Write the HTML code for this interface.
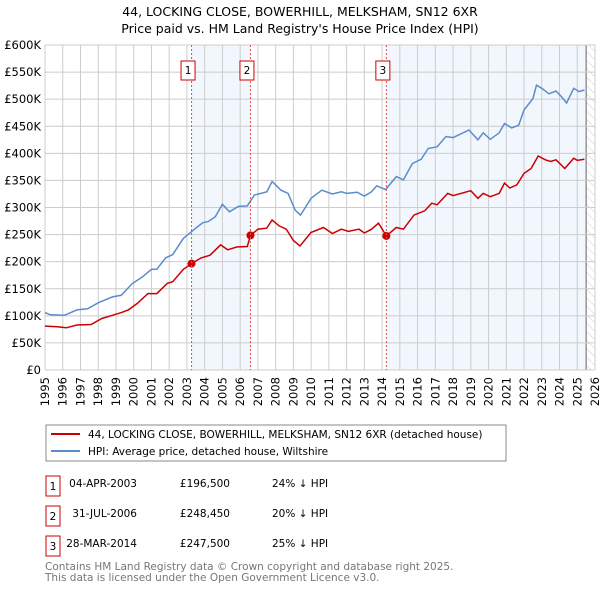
<!DOCTYPE html>
<html><head><meta charset="utf-8"><style>
body{margin:0;background:#fff;font-family:"Liberation Sans","DejaVu Sans",sans-serif;}
svg text{font-family:"DejaVu Sans","Liberation Sans",sans-serif;}
</style></head><body>
<svg id="chart" width="600" height="590" xmlns="http://www.w3.org/2000/svg">
<text x="300" y="16" text-anchor="middle" font-size="12.5">44, LOCKING CLOSE, BOWERHILL, MELKSHAM, SN12 6XR</text>
<text x="300" y="33" text-anchor="middle" font-size="12.5">Price paid vs. HM Land Registry's House Price Index (HPI)</text>
<g id="bg"></g><g id="grid"></g><g id="series"></g><g id="marks"></g><g id="axes"></g>
<g>
<rect x="46" y="425" width="460" height="36" fill="#fff" stroke="#888"/>
<line x1="51" y1="434" x2="80" y2="434" stroke="#cc0000" stroke-width="2"/>
<text x="88" y="438" font-size="10.5">44, LOCKING CLOSE, BOWERHILL, MELKSHAM, SN12 6XR (detached house)</text>
<line x1="51" y1="451" x2="80" y2="451" stroke="#5b8ccc" stroke-width="2"/>
<text x="88" y="455" font-size="10.5">HPI: Average price, detached house, Wiltshire</text>
</g>
<g font-size="10.5">
<rect x="46" y="476" width="14" height="20" fill="#fff" stroke="#cc0000"/><text x="53" y="490" text-anchor="middle">1</text>
<text x="137" y="487" text-anchor="end">04-APR-2003</text><text x="230" y="487" text-anchor="end">£196,500</text><text x="272" y="487">24% ↓ HPI</text>
<rect x="46" y="506" width="14" height="20" fill="#fff" stroke="#cc0000"/><text x="53" y="520" text-anchor="middle">2</text>
<text x="137" y="517" text-anchor="end">31-JUL-2006</text><text x="230" y="517" text-anchor="end">£248,450</text><text x="272" y="517">20% ↓ HPI</text>
<rect x="46" y="536" width="14" height="20" fill="#fff" stroke="#cc0000"/><text x="53" y="550" text-anchor="middle">3</text>
<text x="137" y="547" text-anchor="end">28-MAR-2014</text><text x="230" y="547" text-anchor="end">£247,500</text><text x="272" y="547">25% ↓ HPI</text>
</g>
<text x="45" y="570" font-size="10.5" fill="#777">Contains HM Land Registry data © Crown copyright and database right 2025.</text>
<text x="45" y="581" font-size="10.5" fill="#777">This data is licensed under the Open Government Licence v3.0.</text>
</svg>
<script>
const hpiYears=[1995,1995.3,1996.1,1996.8,1997.4,1998,1998.8,1999.3,1999.9,2000.5,2001,2001.3,2001.8,2002.2,2002.8,2003.5,2003.9,2004.2,2004.6,2005,2005.4,2005.9,2006.4,2006.8,2007.5,2007.8,2008.3,2008.7,2009.1,2009.4,2010,2010.6,2011.2,2011.7,2012,2012.6,2013,2013.4,2013.7,2014.2,2014.8,2015.2,2015.7,2016.2,2016.6,2017.1,2017.6,2018,2018.9,2019.4,2019.7,2020.1,2020.6,2020.9,2021.3,2021.7,2022,2022.5,2022.7,2023,2023.4,2023.8,2024.1,2024.4,2024.8,2025.1,2025.4];
const hpiValues=[106,102,101,111,113,124,135,138,159,172,186,186,207,213,243,262,272,274,283,306,292,302,303,323,329,348,332,326,295,286,317,332,325,329,326,328,321,329,340,333,357,351,381,389,409,412,431,429,443,425,438,426,438,455,447,452,480,501,526,520,510,515,505,493,520,514,517];
const propYears=[1995,1995.7,1996.2,1996.8,1997.6,1998.2,1998.8,1999.3,1999.7,2000.2,2000.8,2001.3,2001.9,2002.2,2002.8,2003.26,2003.8,2004.3,2004.9,2005.3,2005.8,2006.4,2006.58,2007,2007.5,2007.8,2008.2,2008.6,2009,2009.37,2010,2010.7,2011.2,2011.7,2012.1,2012.7,2013,2013.4,2013.8,2014.24,2014.8,2015.2,2015.8,2016.4,2016.8,2017.1,2017.7,2018,2019,2019.4,2019.7,2020.1,2020.6,2020.9,2021.2,2021.6,2022,2022.4,2022.8,2023.2,2023.5,2023.8,2024.3,2024.8,2025,2025.4];
const propValues=[81,80,78,83,84,95,101,106,111,123,141,141,160,163,186,196.5,207,212,231,222,227,228,248.45,260,262,277,266,260,239,229,254,263,252,260,256,260,253,260,271,247.5,263,260,286,294,308,305,326,322,331,317,326,320,326,345,336,342,363,372,395,388,385,388,372,391,387,389];
const saleYears=[2003.26,2006.58,2014.24];
const saleValues=[196.5,248.45,247.5];
const saleLabels=["1","2","3"];
const yTicks=[0,50,100,150,200,250,300,350,400,450,500,550,600];
const yTickLabels=["£0","£50K","£100K","£150K","£200K","£250K","£300K","£350K","£400K","£450K","£500K","£550K","£600K"];
const xTicks=[1995,1996,1997,1998,1999,2000,2001,2002,2003,2004,2005,2006,2007,2008,2009,2010,2011,2012,2013,2014,2015,2016,2017,2018,2019,2020,2021,2022,2023,2024,2025,2026];
const L=45,R=595,T=45,B=370;
const X=y=>L+(y-1995)/(2026-1995)*(R-L);
const Y=v=>B-v/600*(B-T);
const NS="http://www.w3.org/2000/svg";
function mk(tag,parent,attrs){const e=document.createElementNS(NS,tag);for(const k in attrs)e.setAttribute(k,attrs[k]);document.getElementById(parent).appendChild(e);return e;}
let s1=mk('rect','bg',{x:X(saleYears[0]),y:T,width:X(saleYears[1])-X(saleYears[0]),height:B-T,fill:'#f2f6fd'});


let s2=mk('rect','bg',{x:X(saleYears[2]),y:T,width:X(2025.5)-X(saleYears[2]),height:B-T,fill:'#f2f6fd'});


let defs=mk('defs','bg',{});
defs.innerHTML='<pattern id="hatch" width="6" height="6" patternUnits="userSpaceOnUse" patternTransform="rotate(-45)"><line x1="0" y1="0" x2="0" y2="6" stroke="#ccc" stroke-width="1"/></pattern>';
let h=mk('rect','bg',{x:X(2025.5),y:T,width:R-X(2025.5),height:B-T,fill:'url(#hatch)'});


mk('line','bg',{x1:X(2025.5),y1:T,x2:X(2025.5),y2:B,stroke:'#666','stroke-width':1});
yTicks.forEach((v,i)=>{
 mk('line','grid',{x1:L,x2:R,y1:Y(v),y2:Y(v),stroke:'#ccc'});
 const t=mk('text','axes',{x:L-4,y:Y(v)+4,'text-anchor':'end','font-size':'11.5'});
 t.textContent=yTickLabels[i];
 
 
});
xTicks.forEach(y=>{
 mk('line','grid',{x1:X(y),x2:X(y),y1:T,y2:B,stroke:'#ccc'});
 const t=mk('text','axes',{x:0,y:0,'text-anchor':'end','font-size':'11.5',transform:`translate(${X(y)+4},${B+7}) rotate(-90)`});
 t.textContent=y;
 
 
});
saleYears.forEach((y,i)=>{
 mk('line','marks',{x1:X(y),x2:X(y),y1:T,y2:B,stroke:'#e05050','stroke-dasharray':'2,2','stroke-width':1});
 const bx=X(y)-3.5;
 const r=mk('rect','marks',{x:bx-7,y:61,width:14,height:19,fill:'#fff',stroke:'#cc0000'});
 
 
 const t=mk('text','marks',{x:bx,y:74,'text-anchor':'middle','font-size':'10.5'});
 t.textContent=saleLabels[i];
});
function path(xs,vs){return xs.map((x,i)=>(i?'L':'M')+X(x).toFixed(1)+','+Y(vs[i]).toFixed(1)).join('');}
const hp=mk('path','series',{d:path(hpiYears,hpiValues),fill:'none',stroke:'#5b8ccc','stroke-width':1.5});


const pp=mk('path','series',{d:path(propYears,propValues),fill:'none',stroke:'#cc0000','stroke-width':1.5});


saleYears.forEach((y,i)=>{
 const c=mk('circle','series',{cx:X(y),cy:Y(saleValues[i]),r:4,fill:'#cc0000'});
 
 
});
</script>
</body></html>
